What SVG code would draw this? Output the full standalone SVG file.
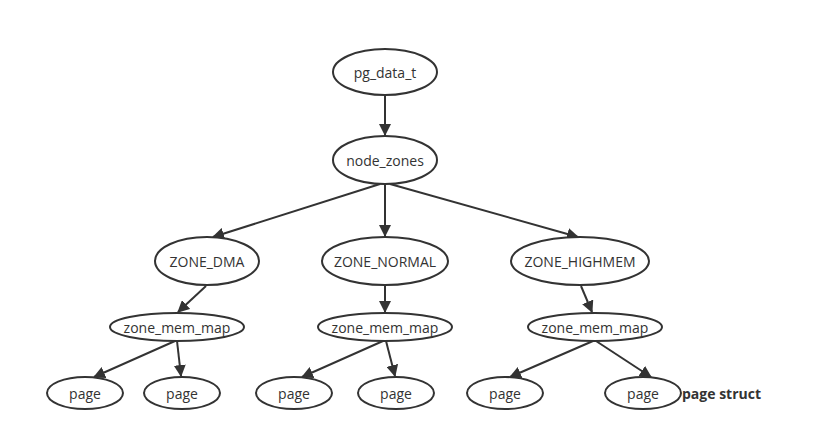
<svg xmlns="http://www.w3.org/2000/svg" width="834" height="444" viewBox="0 0 834 444">
<defs>
<marker id="ah" viewBox="0 0 12 12" refX="11" refY="6" markerWidth="12" markerHeight="12" markerUnits="userSpaceOnUse" orient="auto">
<path d="M0,0 L12,6 L0,12 z" fill="#333"/>
</marker>
<style>
.n ellipse{fill:#fff;stroke:#333;stroke-width:2}
.n text{font-family:"Open Sans","Noto Sans",sans-serif;font-size:14px;fill:#333;text-anchor:middle;dominant-baseline:central}
.e line{stroke:#333;stroke-width:2;marker-end:url(#ah)}
</style>
</defs>
<rect width="834" height="444" fill="#fff"/>
<g class="e" id="edges">
<line x1="385" y1="95" x2="385" y2="135"/>
<line x1="380" y1="184" x2="213" y2="237"/>
<line x1="385" y1="184" x2="385" y2="236"/>
<line x1="390" y1="184" x2="578" y2="237"/>
<line x1="206" y1="286" x2="178" y2="312"/>
<line x1="385" y1="286" x2="385" y2="312"/>
<line x1="581" y1="286" x2="592" y2="312"/>
<line x1="175" y1="341" x2="94" y2="377"/>
<line x1="177" y1="341" x2="181" y2="376"/>
<line x1="383" y1="341" x2="302" y2="377"/>
<line x1="386" y1="341" x2="395" y2="376"/>
<line x1="593" y1="341" x2="510" y2="377"/>
<line x1="596" y1="341" x2="651" y2="377"/>
</g>
<g class="n" id="pg_data_t"><ellipse cx="385" cy="72" rx="52" ry="23"/><text x="385" y="72">pg_data_t</text></g>
<g class="n" id="node_zones"><ellipse cx="385" cy="160" rx="52" ry="24"/><text x="385" y="160">node_zones</text></g>
<g class="n" id="zone_dma"><ellipse cx="207" cy="261" rx="52" ry="24"/><text x="207" y="261">ZONE_DMA</text></g>
<g class="n" id="zone_normal"><ellipse cx="385" cy="261" rx="63" ry="24"/><text x="385" y="261">ZONE_NORMAL</text></g>
<g class="n" id="zone_highmem"><ellipse cx="580" cy="261" rx="69" ry="24"/><text x="580" y="261">ZONE_HIGHMEM</text></g>
<g class="n" id="zmm1"><ellipse cx="177" cy="327" rx="67" ry="14"/><text x="177" y="327">zone_mem_map</text></g>
<g class="n" id="zmm2"><ellipse cx="385" cy="327" rx="67" ry="14"/><text x="385" y="327">zone_mem_map</text></g>
<g class="n" id="zmm3"><ellipse cx="595" cy="327" rx="67" ry="14"/><text x="595" y="327">zone_mem_map</text></g>
<g class="n" id="page1"><ellipse cx="85" cy="393" rx="38" ry="16"/><text x="85" y="393">page</text></g>
<g class="n" id="page2"><ellipse cx="182" cy="393" rx="38" ry="16"/><text x="182" y="393">page</text></g>
<g class="n" id="page3"><ellipse cx="294" cy="393" rx="38" ry="16"/><text x="294" y="393">page</text></g>
<g class="n" id="page4"><ellipse cx="396" cy="393" rx="38" ry="16"/><text x="396" y="393">page</text></g>
<g class="n" id="page5"><ellipse cx="505" cy="393" rx="38" ry="16"/><text x="505" y="393">page</text></g>
<g class="n" id="page6"><ellipse cx="643" cy="393" rx="38" ry="16"/><text x="643" y="393">page</text></g>
<text x="682" y="393" font-family="'Open Sans','Noto Sans',sans-serif" font-size="14" font-weight="bold" fill="#333" dominant-baseline="central">page struct</text>
</svg>
